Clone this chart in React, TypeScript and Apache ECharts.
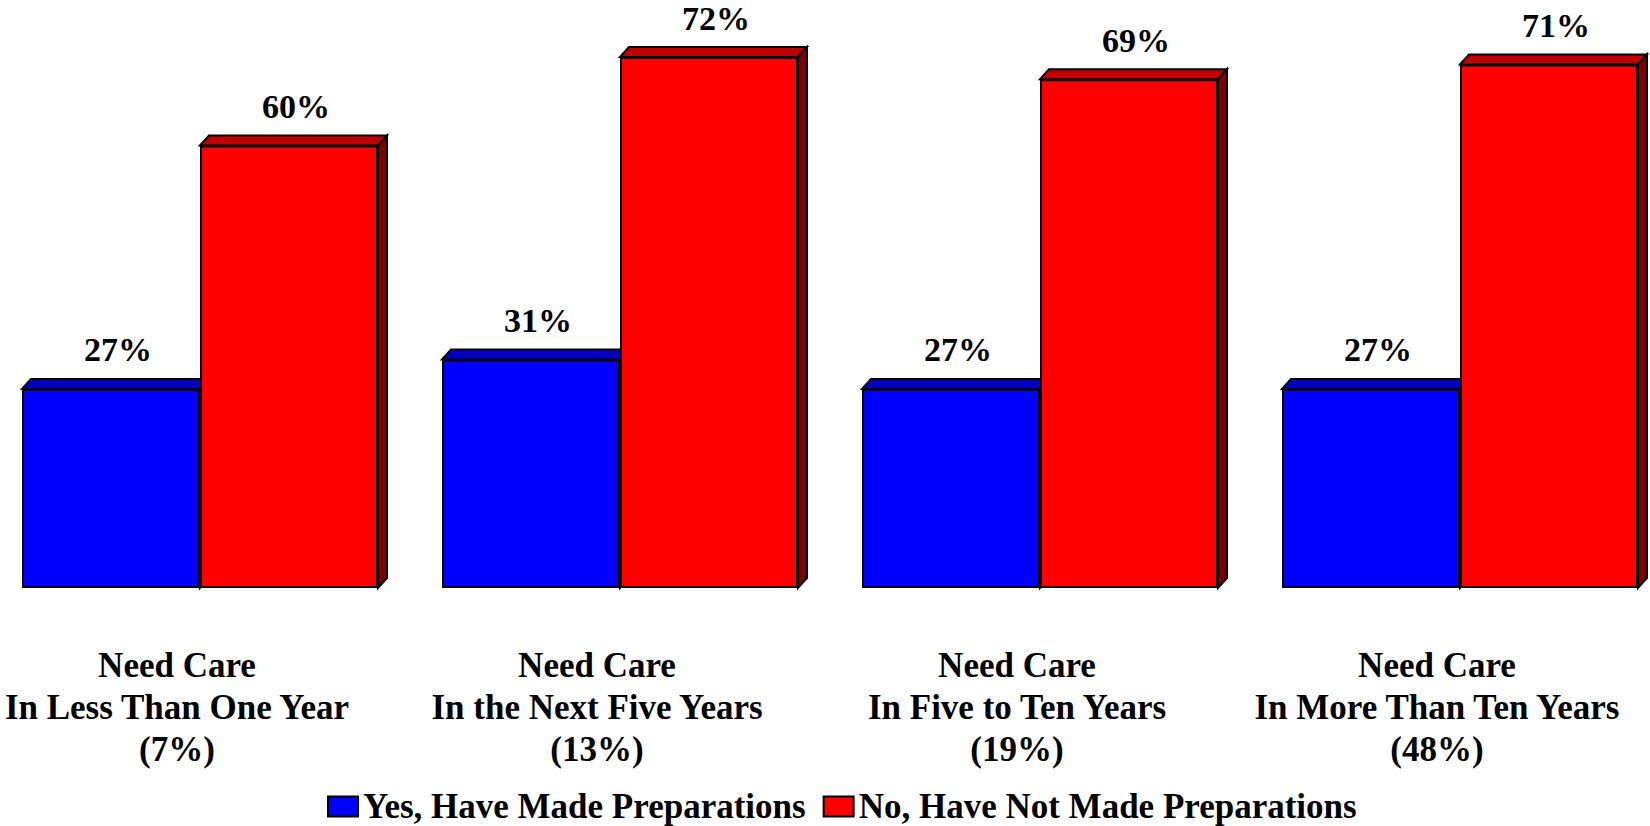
import React, { useEffect, useRef } from 'react';
import * as echarts from 'echarts';

const categories = [
  'Need Care\nIn Less Than One Year\n(7%)',
  'Need Care\nIn the Next Five Years\n(13%)',
  'Need Care\nIn Five to Ten Years\n(19%)',
  'Need Care\nIn More Than Ten Years\n(48%)',
];
const seriesNames = ['Yes, Have Made Preparations', 'No, Have Not Made Preparations'];
const yesValues = [27, 31, 27, 27];
const noValues = [60, 72, 69, 71];

const GAP = 0.1524;
const DX = 9;
const DY = 10;
const FONT = 'Liberation Serif, Times New Roman, serif';
// the chart canvas is shifted by (-10, -2) inside a clipping wrapper
const OX = 10;
const OY = 2;

function makeDepth(side: number, topColor: string, sideColor: string) {
  return (params: any, api: any) => {
    const idx = api.value(0);
    const v = api.value(1);
    const base = api.coord([idx, 0]);
    const top = api.coord([idx, v]);
    const band = api.size([1, 0])[0];
    const w = (band * (1 - GAP)) / 2;
    const x0 = side === 0 ? base[0] - w : base[0];
    const x1 = x0 + w;
    const yT = top[1];
    const yB = base[1];
    return {
      type: 'group',
      children: [
        {
          type: 'polygon',
          shape: { points: [[x0, yT], [x0 + DX, yT - DY], [x1 + DX, yT - DY], [x1, yT]] },
          style: { fill: topColor, stroke: '#000', lineWidth: 2 },
        },
        {
          type: 'polygon',
          shape: { points: [[x1, yT], [x1 + DX, yT - DY], [x1 + DX, yB - DY], [x1, yB]] },
          style: { fill: sideColor, stroke: '#000', lineWidth: 2 },
        },
      ],
    };
  };
}

export default function App() {
  const ref = useRef<HTMLDivElement>(null);
  useEffect(() => {
    if (!ref.current) return;
    const chart = echarts.init(ref.current, undefined, { renderer: 'svg' });
    const labelStyle = {
      show: true,
      position: 'top',
      distance: 22,
      offset: [7, 0],
      formatter: '{c}%',
      fontSize: 34,
      fontWeight: 'bold',
      fontFamily: FONT,
      color: '#000',
    };
    chart.setOption({
      animation: false,
      backgroundColor: '#fff',
      grid: { left: 0, right: 0, top: 0, bottom: 238 },
      xAxis: {
        type: 'category',
        data: categories,
        axisLine: { show: false },
        axisTick: { show: false },
        axisLabel: {
          interval: 0,
          margin: 56,
          fontSize: 35,
          lineHeight: 42,
          padding: [0, 46, 0, 0],
          fontWeight: 'bold',
          fontFamily: FONT,
          color: '#000',
        },
      },
      yAxis: { type: 'value', min: 0, max: 80, show: false, splitLine: { show: false } },
      legend: {
        data: seriesNames,
        left: 327 + OX,
        top: 789 + OY,
        padding: 0,
        icon: 'rect',
        itemWidth: 30,
        itemHeight: 20,
        itemGap: 17,
        textStyle: { fontSize: 35, fontWeight: 'bold', fontFamily: FONT, color: '#000' },
      },
      series: [
        {
          name: 'yes-depth',
          type: 'custom',
          z: 2,
          data: yesValues.map((v, i) => [i, v]),
          encode: { x: 0, y: 1 },
          renderItem: makeDepth(0, '#0000C0', '#000080'),
        },
        {
          name: 'no-depth',
          type: 'custom',
          z: 2,
          data: noValues.map((v, i) => [i, v]),
          encode: { x: 0, y: 1 },
          renderItem: makeDepth(1, '#C00000', '#800000'),
        },
        {
          name: seriesNames[0],
          type: 'bar',
          z: 3,
          data: yesValues,
          barGap: '0%',
          barCategoryGap: '15.24%',
          itemStyle: { color: '#0000FF', borderColor: '#000', borderWidth: 2 },
          label: labelStyle,
        },
        {
          name: seriesNames[1],
          type: 'bar',
          z: 3,
          data: noValues,
          barGap: '0%',
          barCategoryGap: '15.24%',
          itemStyle: { color: '#FF0000', borderColor: '#000', borderWidth: 2 },
          label: labelStyle,
        },
      ],
    });
    return () => chart.dispose();
  }, []);
  return (
    <div
      style={{
        position: 'absolute',
        left: 0,
        top: 0,
        width: 1650,
        height: 826,
        overflow: 'hidden',
        background: '#fff',
      }}
    >
      <div
        ref={ref}
        style={{ position: 'absolute', left: -OX, top: -OY, width: 1680, height: 828 }}
      />
    </div>
  );
}
